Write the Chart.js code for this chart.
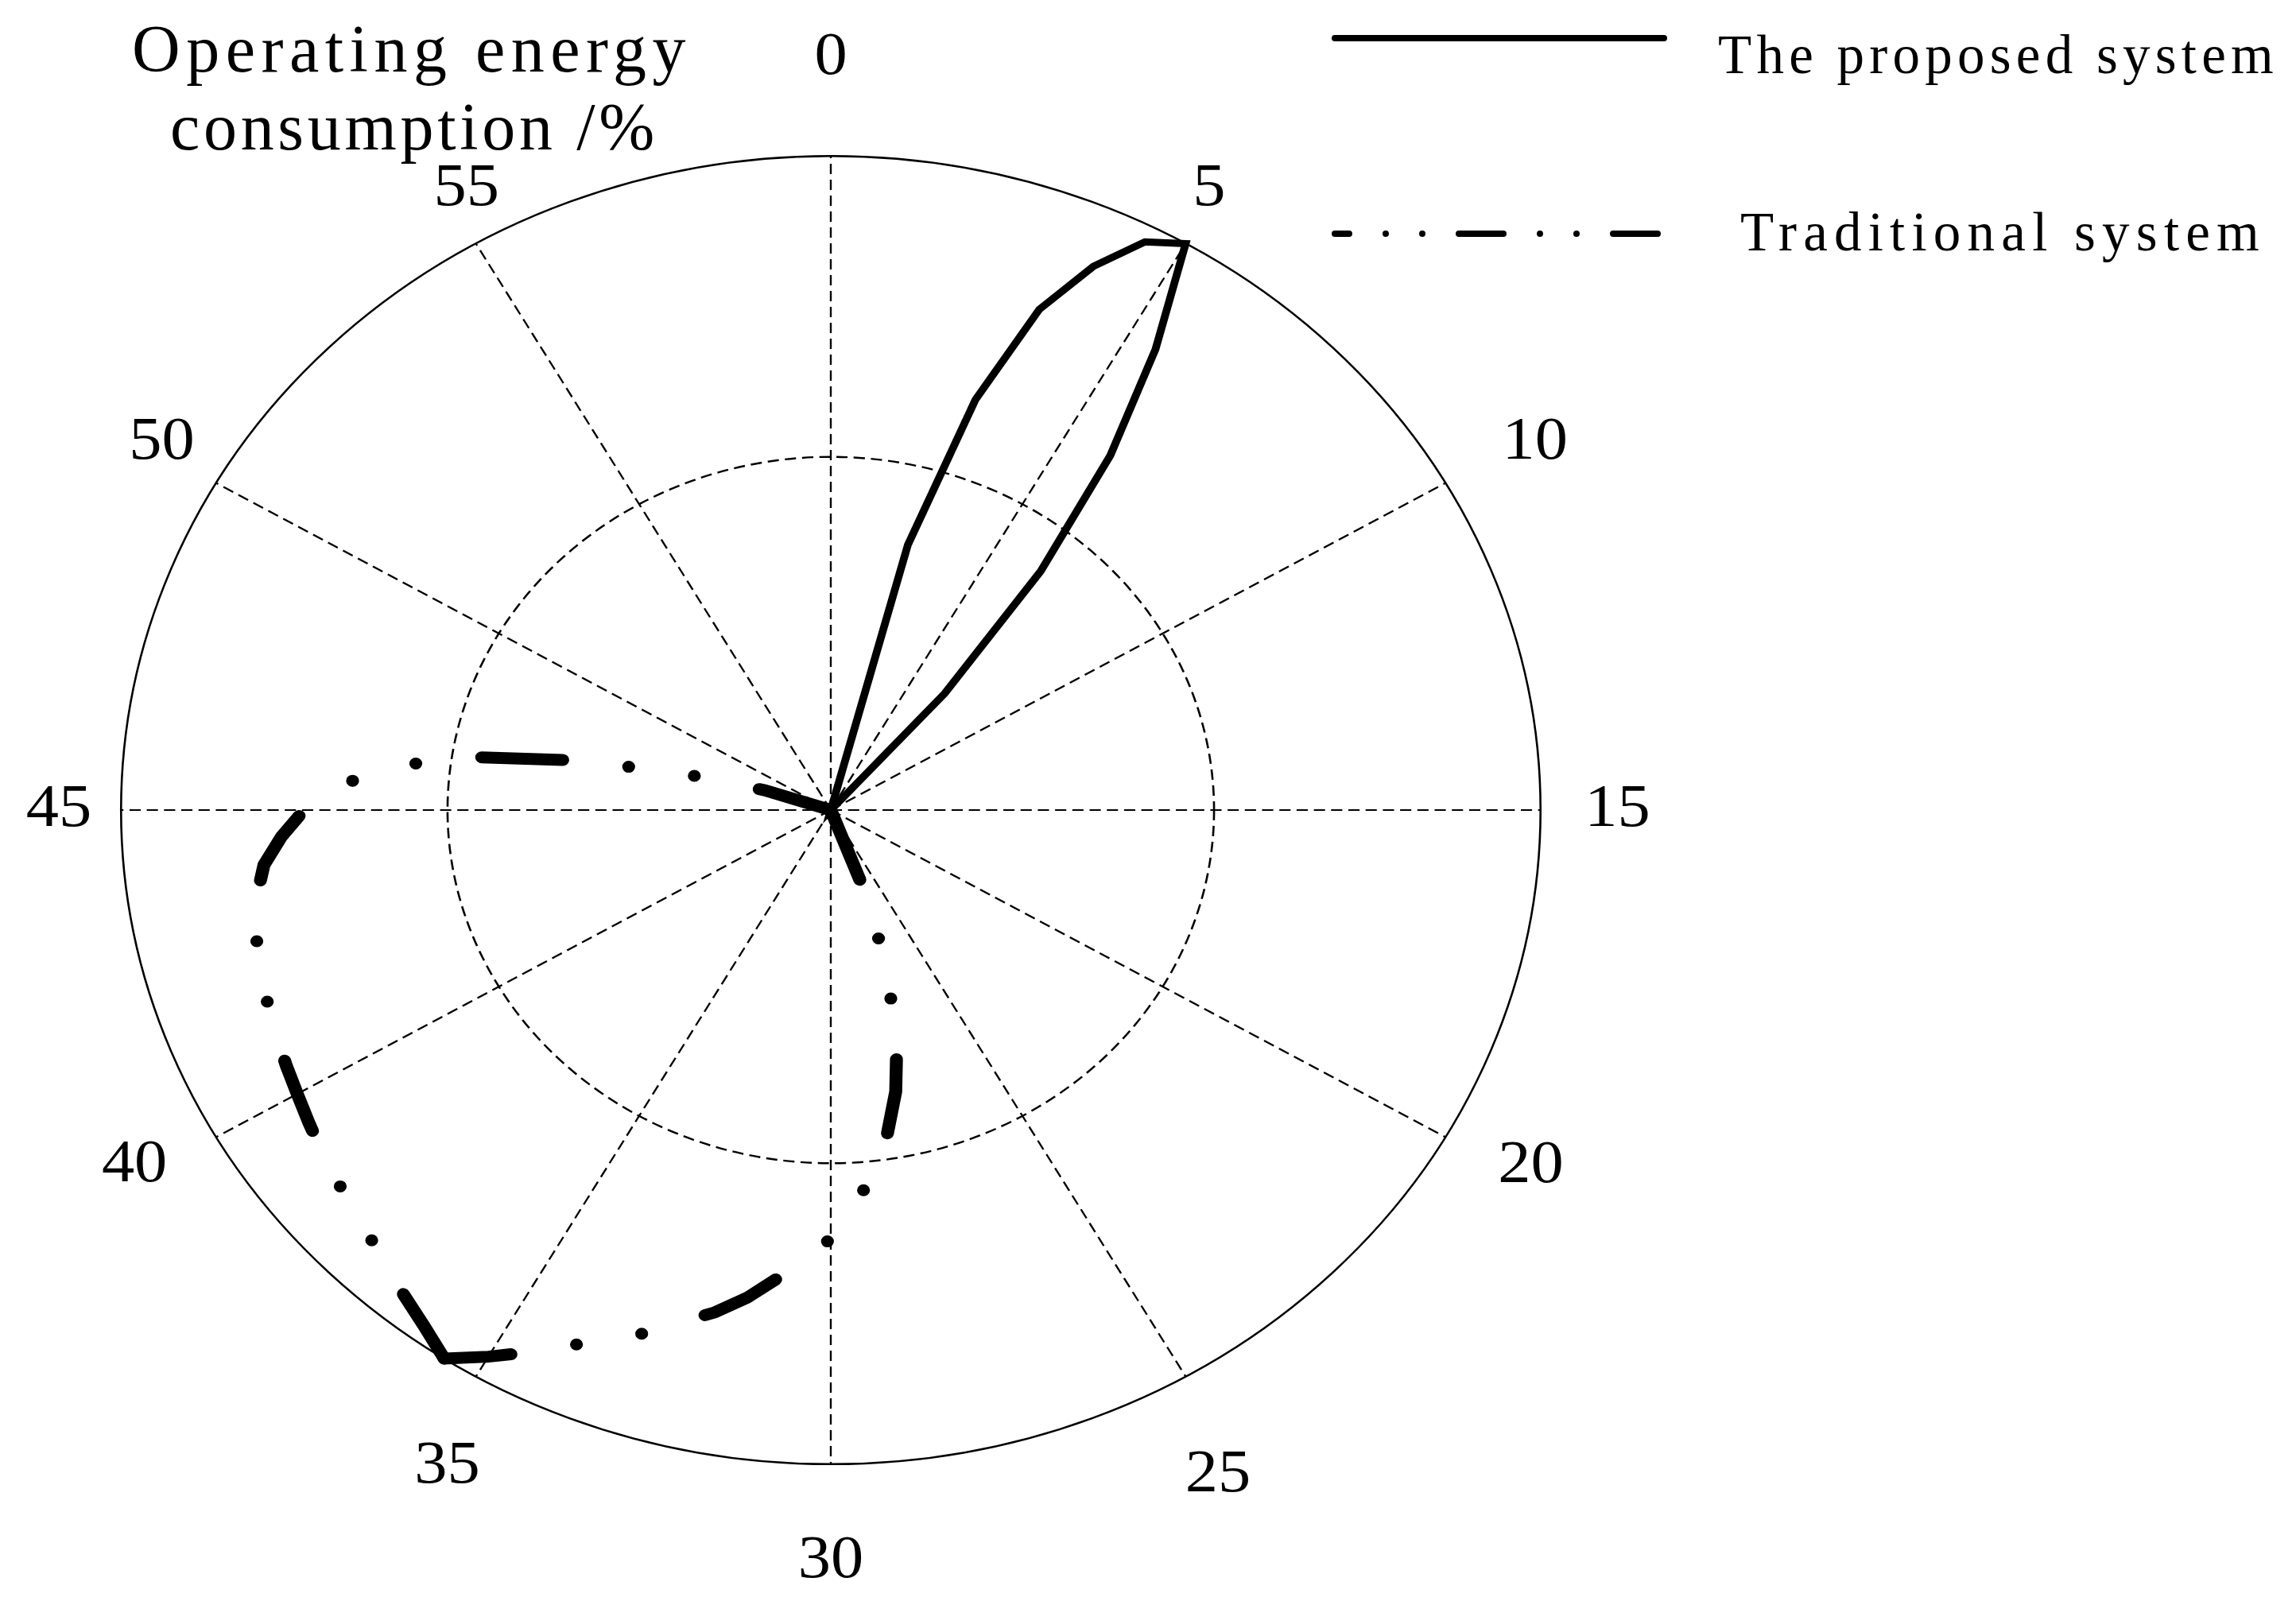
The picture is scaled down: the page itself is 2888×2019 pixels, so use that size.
<!DOCTYPE html>
<html>
<head>
<meta charset="utf-8">
<title>Operating energy consumption</title>
<script src="https://cdn.jsdelivr.net/npm/chart.js@4.4.1/dist/chart.umd.min.js"></script>
<style>
  html, body { margin: 0; padding: 0; background: #fff; }
  #wrap { position: relative; width: 2888px; height: 2019px; }
</style>
</head>
<body>
<div id="wrap"><canvas id="polar"></canvas></div>
<script>
// angle axis: one turn = 60, sampled every half unit
const angleLabels = Array.from({ length: 120 }, (_, i) => i / 2);

// proposed system lobe (angle, radius as fraction of outer ring)
const proposedAngles = [2, 2.5, 3, 3.5, 4, 4.5, 5, 5.5, 6, 6.5, 7, 7.5];
const proposedValues = [0, 0.42, 0.66, 0.82, 0.91, 0.975, 1.0, 0.84, 0.67, 0.47, 0.24, 0];

// traditional system lobe
const traditionalAngles = [26, 26.5, 27, 27.5, 28, 28.5, 29, 29.5, 30, 30.5, 31, 31.5, 32, 32.5,
  33, 33.5, 34, 34.5, 35, 35.5, 36, 36.5, 37, 37.5, 38, 38.5, 39, 39.5, 40, 40.5, 41, 41.5,
  42, 42.5, 43, 43.5, 44, 44.5, 45, 45.5, 46, 46.5, 47, 47.5, 48, 48.5];
const traditionalValues = [0, 0.15, 0.25, 0.36, 0.44, 0.505, 0.56, 0.61, 0.655, 0.69, 0.72, 0.755, 0.785, 0.81,
  0.84, 0.87, 0.895, 0.93, 0.965, 1.0, 0.975, 0.955, 0.937, 0.92, 0.907, 0.897, 0.887, 0.877, 0.868, 0.861,
  0.854, 0.848, 0.842, 0.836, 0.829, 0.818, 0.803, 0.775, 0.742, 0.695, 0.627, 0.52, 0.365, 0.215, 0.098, 0];

const radialTicks = [0, 0.54, 1];
const seriesNames = ['The proposed system', 'Traditional system'];
const titleLines = ['Operating energy', 'consumption /%'];

// the original plot is an ellipse, a bit wider than tall
const xStretch = 1.085;
// padding only sizes the ring; label centres are then set from labelDistance / labelTurn
const labelPadding = { 0: 77, 5: 22, 10: 42, 15: 42, 20: 42, 25: 55, 30: 77, 35: 55, 40: 42, 45: 42, 50: 42, 55: 15 };
const labelDistance = { 0: 946, 5: 896, 10: 938, 15: 912, 20: 927, 25: 950, 30: 945, 35: 938, 40: 923, 45: 895, 50: 903, 55: 888 };
const labelTurn = { 0: 0, 5: -0.7, 10: 0.5, 15: 0, 20: -1.1, 25: 1.8, 30: 0, 35: -1.7, 40: 1.0, 45: 0, 50: 0.8, 55: 1.6 };

function toSeries(angles, values, empty) {
  return angleLabels.map(a => {
    const k = angles.indexOf(a);
    return k < 0 ? empty : values[k];
  });
}

// the dash pattern of the original restarts at the sharp peak, so the
// traditional curve is stroked as two runs that meet there
const peakIdx = traditionalValues.indexOf(Math.max(...traditionalValues));
const tradRunA = toSeries(traditionalAngles.slice(0, peakIdx + 1), traditionalValues.slice(0, peakIdx + 1), null);
const tradRunB = toSeries(traditionalAngles.slice(peakIdx), traditionalValues.slice(peakIdx), null);

// serif text spread out to the width of the original monospaced lettering
function spacedText(c, text, x, y, width) {
  if ('letterSpacing' in c) {
    c.letterSpacing = '0px';
    const w = c.measureText(text).width;
    c.letterSpacing = ((width - w) / text.length) + 'px';
  }
  c.fillText(text, x, y);
  if ('letterSpacing' in c) c.letterSpacing = '0px';
}

function placePointLabels(scale) {
  const items = scale._pointLabelItems || [];
  items.forEach((it, i) => {
    const lab = scale._pointLabels[i];
    if (!lab) return;
    const d = labelDistance[lab];
    const a = scale.getIndexAngle(i) + labelTurn[lab] * Math.PI / 180;
    const cx = scale.xCenter + d * Math.sin(a);
    const cy = scale.yCenter - d * Math.cos(a);
    const w = it.right - it.left;
    const h = it.bottom - it.top;
    it.textAlign = 'center';
    it.x = cx;
    it.y = cy - h / 2;
    it.left = cx - w / 2;
    it.right = cx + w / 2;
    it.top = cy - h / 2;
    it.bottom = cy + h / 2;
  });
}

const stretchPlugin = {
  id: 'stretch',
  beforeDraw(chart) {
    const c = chart.ctx;
    const xc = chart.scales.r.xCenter;
    c.save();
    c.translate(xc, 0);
    c.scale(xStretch, 1);
    c.translate(-xc, 0);
  },
  afterDatasetsDraw(chart) {
    chart.ctx.restore();
  }
};

const sideLegend = {
  id: 'sideLegend',
  afterDraw(chart) {
    const c = chart.ctx;
    c.save();
    c.strokeStyle = '#000';
    c.fillStyle = '#000';
    c.lineCap = 'round';
    c.lineWidth = 8;

    c.setLineDash([]);
    c.beginPath(); c.moveTo(1679, 48); c.lineTo(2093, 48); c.stroke();

    c.setLineDash([56, 46, 0, 46, 0, 46]);
    c.lineDashOffset = 38;
    c.beginPath(); c.moveTo(1679, 294); c.lineTo(2093, 294); c.stroke();
    c.setLineDash([]);

    c.textBaseline = 'alphabetic';
    c.textAlign = 'left';
    c.font = '69px "Liberation Serif"';
    spacedText(c, seriesNames[0], 2161, 92, 705);
    spacedText(c, seriesNames[1], 2189, 315, 661);

    c.font = '84px "Liberation Serif"';
    spacedText(c, titleLines[0], 166, 90, 704);
    spacedText(c, titleLines[1], 214, 188, 614);
    c.restore();
  }
};

const tradStyle = {
  borderColor: '#000',
  borderWidth: 15,
  borderDash: [94, 77, 0, 77, 0, 77],
  borderCapStyle: 'round',
  fill: false,
  spanGaps: false,
  pointRadius: 0,
  pointHoverRadius: 0,
  clip: false
};

new Chart(document.getElementById('polar'), {
  type: 'radar',
  data: {
    labels: angleLabels,
    datasets: [
      {
        label: seriesNames[0],
        data: toSeries(proposedAngles, proposedValues, 0),
        borderColor: '#000',
        borderWidth: 9,
        fill: false,
        pointRadius: 0,
        pointHoverRadius: 0,
        clip: false
      },
      Object.assign({ label: seriesNames[1], data: tradRunA }, tradStyle),
      Object.assign({ label: seriesNames[1], data: tradRunB }, tradStyle)
    ]
  },
  options: {
    responsive: true,
    maintainAspectRatio: false,
    animation: false,
    layout: { padding: { left: 50, right: 848, top: 28, bottom: 8 } },
    plugins: {
      legend: { display: false },
      title: { display: false },
      tooltip: { enabled: false }
    },
    scales: {
      r: {
        min: 0,
        max: 1,
        afterBuildTicks: s => { s.ticks = radialTicks.map(v => ({ value: v })); },
        afterFit: placePointLabels,
        ticks: { display: false },
        grid: { circular: true, color: '#000', lineWidth: 2.4 },
        border: { dash: ctx => (ctx.tick && ctx.tick.value < 1 ? [13, 7] : []) },
        angleLines: {
          color: '#000',
          lineWidth: ctx => (ctx.index % 10 === 0 ? 2.2 : 0),
          borderDash: [13, 7]
        },
        pointLabels: {
          callback: v => (v % 5 === 0 ? String(v) : ''),
          color: '#000',
          font: ctx => ({ family: 'Liberation Serif', size: ctx.label ? 76 : 1 }),
          padding: ctx => (ctx.label ? labelPadding[ctx.label] : 0)
        }
      }
    }
  },
  plugins: [stretchPlugin, sideLegend]
});
</script>
</body>
</html>
